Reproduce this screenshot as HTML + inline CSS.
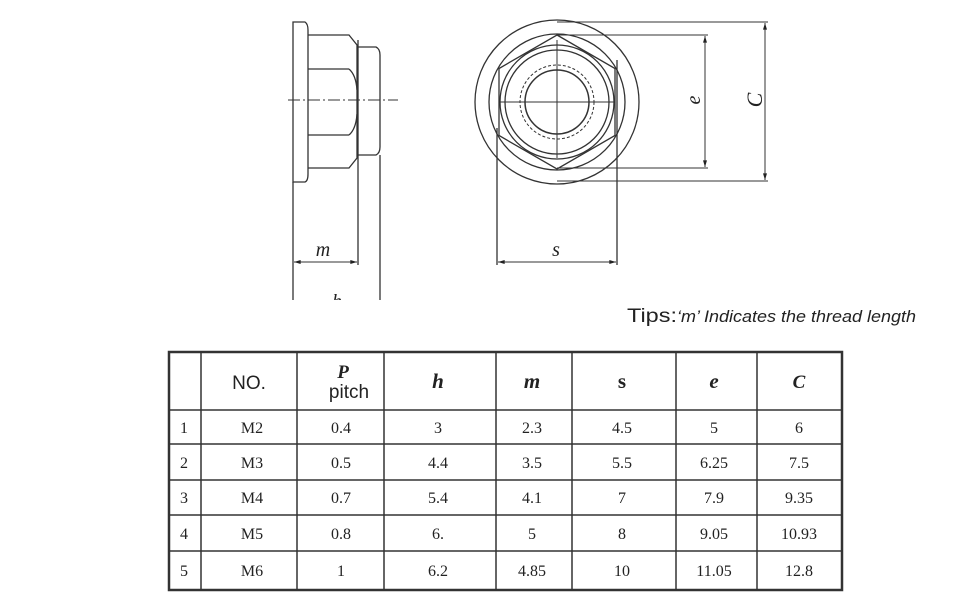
<!DOCTYPE html>
<html><head><meta charset="utf-8"><style>
html,body{margin:0;padding:0;background:#fff;}
svg{display:block}
text{font-family:"Liberation Serif",serif;fill:#222}
</style></head><body>
<svg width="970" height="600" viewBox="0 0 970 600" xmlns="http://www.w3.org/2000/svg">
<defs>
<marker id="a" viewBox="0 0 10 6" refX="10" refY="3" markerWidth="8" markerHeight="4" orient="auto-start-reverse"><path d="M0,0L10,3L0,6z" fill="#222"/></marker>
</defs>
<g stroke="#333" stroke-width="1.3" fill="none">
<!-- side view -->
<path d="M293,22 H305 Q308,24 308,30 V174 Q308,181 305,182 H293 Z"/>
<path d="M308,35 H349 L357,45 V158 L349,168 H308"/>
<line x1="308" y1="69" x2="349" y2="69"/><line x1="308" y1="135" x2="349" y2="135"/>
<path d="M349,69 Q356,75 357,90 M349,135 Q356,129 357,114"/>
<path d="M358,47 H376 Q380,49 380,55 V147 Q380,153 376,155 H358"/>
<line x1="358" y1="40" x2="358" y2="265"/>
<line x1="293" y1="182" x2="293" y2="305"/>
<line x1="380" y1="155" x2="380" y2="305"/>
<line x1="288" y1="100" x2="398" y2="100" stroke-dasharray="12,3,2,3" stroke-width="1"/>
<line x1="294" y1="262" x2="357" y2="262" marker-start="url(#a)" marker-end="url(#a)" stroke-width="1"/>
<!-- front view -->
<circle cx="557" cy="102" r="82"/>
<circle cx="557" cy="102" r="68"/>
<path d="M557,35 L615,68.5 L615,135.5 L557,169 L499,135.5 L499,68.5 Z"/>
<circle cx="557" cy="102" r="57"/>
<circle cx="557" cy="102" r="52"/>
<circle cx="557" cy="102" r="37" stroke-dasharray="3,2" stroke-width="1"/>
<circle cx="557" cy="102" r="32" stroke-width="1.5"/>
<line x1="557" y1="40" x2="557" y2="158" stroke-width="1"/>
<line x1="500" y1="102" x2="614" y2="102" stroke-width="1"/>
<line x1="497" y1="128" x2="497" y2="265"/>
<line x1="617" y1="60" x2="617" y2="265"/>
<line x1="498" y1="262" x2="616" y2="262" marker-start="url(#a)" marker-end="url(#a)" stroke-width="1"/>
<line x1="557" y1="35" x2="708" y2="35" stroke-width="1"/>
<line x1="557" y1="168" x2="708" y2="168" stroke-width="1"/>
<line x1="705" y1="36" x2="705" y2="167" marker-start="url(#a)" marker-end="url(#a)" stroke-width="1"/>
<line x1="557" y1="22" x2="768" y2="22" stroke-width="1"/>
<line x1="557" y1="181" x2="768" y2="181" stroke-width="1"/>
<line x1="765" y1="23" x2="765" y2="180" marker-start="url(#a)" marker-end="url(#a)" stroke-width="1"/>
</g>
<text x="323" y="256" font-size="20" font-style="italic" text-anchor="middle">m</text>
<text x="337" y="308" font-size="20" font-style="italic" text-anchor="middle">h</text>
<text x="556" y="256" font-size="20" font-style="italic" text-anchor="middle">s</text>
<text transform="translate(700,100) rotate(-90)" font-size="20" font-style="italic" text-anchor="middle">e</text>
<text transform="translate(762,100) rotate(-90)" font-size="22" font-style="italic" text-anchor="middle">C</text>
<rect x="0" y="300" width="970" height="8" fill="#fff"/>
<text x="627" y="322" font-size="19" style="font-family:'Liberation Sans',sans-serif" textLength="50" lengthAdjust="spacingAndGlyphs">Tips:</text>
<text x="677" y="322" font-size="17" font-style="italic" style="font-family:'Liberation Sans',sans-serif" textLength="239" lengthAdjust="spacingAndGlyphs">‘m’ Indicates the thread length</text>
<!-- table -->
<g stroke="#333" fill="none">
<rect x="169" y="352" width="673" height="238" stroke-width="2.5"/>
<g stroke-width="1.5">
<line x1="169" y1="410" x2="842" y2="410"/>
<line x1="169" y1="444" x2="842" y2="444"/>
<line x1="169" y1="480" x2="842" y2="480"/>
<line x1="169" y1="515" x2="842" y2="515"/>
<line x1="169" y1="551" x2="842" y2="551"/>
<line x1="201" y1="352" x2="201" y2="590"/>
<line x1="297" y1="352" x2="297" y2="590"/>
<line x1="384" y1="352" x2="384" y2="590"/>
<line x1="496" y1="352" x2="496" y2="590"/>
<line x1="572" y1="352" x2="572" y2="590"/>
<line x1="676" y1="352" x2="676" y2="590"/>
<line x1="757" y1="352" x2="757" y2="590"/>
</g>
</g>
<g font-size="16" text-anchor="middle">
<text x="249" y="389" style="font-family:'Liberation Sans',sans-serif" font-size="19">NO.</text>
<text x="343" y="378" font-weight="bold" font-style="italic" font-size="19">P</text>
<text x="349" y="398" style="font-family:'Liberation Sans',sans-serif" font-size="19">pitch</text>
<text x="438" y="388" font-weight="bold" font-style="italic" font-size="21">h</text>
<text x="532" y="388" font-weight="bold" font-style="italic" font-size="21">m</text>
<text x="622" y="388" font-weight="bold" font-size="21">s</text>
<text x="714" y="388" font-weight="bold" font-style="italic" font-size="21">e</text>
<text x="799" y="388" font-weight="bold" font-style="italic" font-size="19">C</text>
</g>
<g font-size="16" text-anchor="middle">
<text x="184" y="433">1</text><text x="252" y="433">M2</text><text x="341" y="433">0.4</text><text x="438" y="433">3</text><text x="532" y="433">2.3</text><text x="622" y="433">4.5</text><text x="714" y="433">5</text><text x="799" y="433">6</text>
<text x="184" y="468">2</text><text x="252" y="468">M3</text><text x="341" y="468">0.5</text><text x="438" y="468">4.4</text><text x="532" y="468">3.5</text><text x="622" y="468">5.5</text><text x="714" y="468">6.25</text><text x="799" y="468">7.5</text>
<text x="184" y="503">3</text><text x="252" y="503">M4</text><text x="341" y="503">0.7</text><text x="438" y="503">5.4</text><text x="532" y="503">4.1</text><text x="622" y="503">7</text><text x="714" y="503">7.9</text><text x="799" y="503">9.35</text>
<text x="184" y="539">4</text><text x="252" y="539">M5</text><text x="341" y="539">0.8</text><text x="438" y="539">6.</text><text x="532" y="539">5</text><text x="622" y="539">8</text><text x="714" y="539">9.05</text><text x="799" y="539">10.93</text>
<text x="184" y="576">5</text><text x="252" y="576">M6</text><text x="341" y="576">1</text><text x="438" y="576">6.2</text><text x="532" y="576">4.85</text><text x="622" y="576">10</text><text x="714" y="576">11.05</text><text x="799" y="576">12.8</text>
</g>
</svg>
</body></html>
